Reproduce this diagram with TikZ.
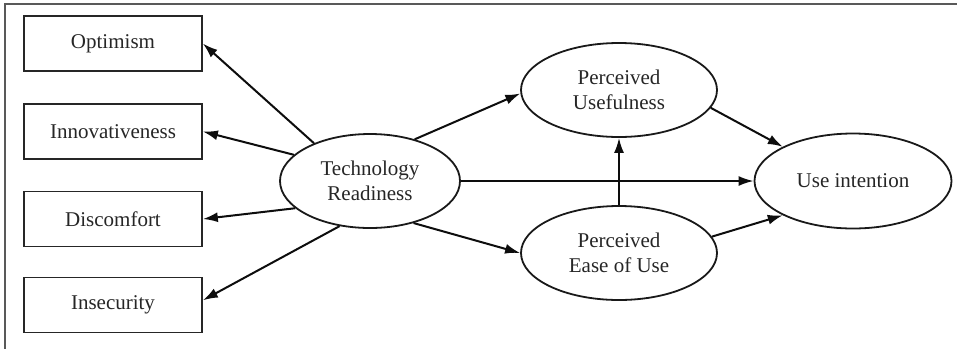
\documentclass[tikz,border=0pt]{standalone}
\usepackage{fontspec}
\setmainfont{Liberation Serif}
\usetikzlibrary{shapes.geometric,arrows.meta}

\tikzset{
  construct/.style={draw=black!85, line width=1.7pt, rectangle, minimum width=178pt,
    minimum height=55pt, inner sep=0pt, text=black!85, font=\fontsize{21}{25}\selectfont},
  latent/.style={draw=black!90, line width=1.8pt, ellipse, inner sep=0pt,
    text=black!85, align=center, font=\fontsize{21}{25}\selectfont},
  path/.style={draw=black!95, line width=2pt, -{Latex[length=15pt,width=10pt]}},
  frameline/.style={draw=black!65, line width=1.4pt}
}

\begin{document}
\begin{tikzpicture}[x=1pt, y=-1pt]
  \useasboundingbox (0,0) rectangle (957,349);

  % frame on the top and left edges
  \coordinate (ftr) at (957,4);
  \coordinate (ftl) at (5,4);
  \coordinate (fbl) at (5,349);
  \draw[frameline] (ftr) -- (ftl) -- (fbl);

  % dimensions of technology readiness
  \node[construct] (opt) at (113,43.5) {Optimism};
  \node[construct] (inn) at (113,131.5) {Innovativeness};
  \node[construct] (dis) at (113,219) {Discomfort};
  \node[construct] (ins) at (113,305) {Insecurity};

  % latent constructs
  \node[latent, minimum width=180pt, minimum height=94pt] (tr) at (370,181)
    {Technology\\Readiness};
  \node[latent, minimum width=196pt, minimum height=94pt] (pu) at (619,90)
    {Perceived\\Usefulness};
  \node[latent, minimum width=196pt, minimum height=94pt] (peou) at (619,253)
    {Perceived\\Ease of Use};
  \node[latent, minimum width=197pt, minimum height=95pt] (ui) at (853,181)
    {Use intention};

  % paths
  \draw[path] (tr.146) -- (opt.east);
  \draw[path] (tr.161) -- (inn.east);
  \draw[path] (tr.200) -- (dis.east);
  \draw[path] (tr.236) -- (ins.3);
  \draw[path] (tr.43) -- (pu.182);
  \draw[path] (tr.-44) -- (peou.west);
  \draw[path] (tr.east) -- (ui.west);
  \draw[path] (peou.north) -- (pu.south);
  \draw[path] (pu.-11) -- (ui.154);
  \draw[path] (peou.10) -- (ui.206);
\end{tikzpicture}
\end{document}
